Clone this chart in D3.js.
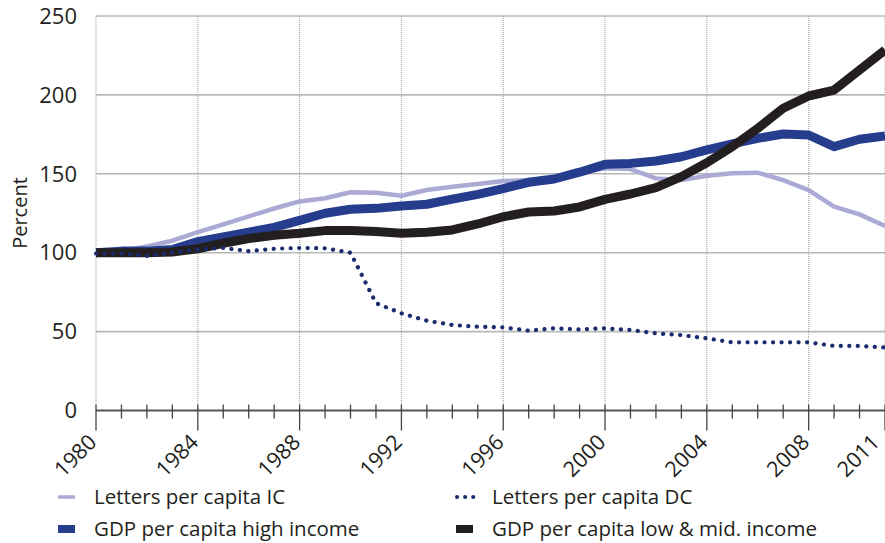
<!DOCTYPE html>
<html><head><meta charset="utf-8">
<script src="https://cdn.jsdelivr.net/npm/d3@7"></script>
<style>
html,body{margin:0;padding:0;background:#fff;}
svg{display:block;}
text{font-family:"Myriad Pro","Open Sans",sans-serif;fill:#231f20;}
</style></head>
<body>
<svg id="chart" width="885" height="543"></svg>
<script>
const years = d3.range(1980, 2012);
const lettersIC = [99,101,104,107.6,113,118,123,128,132.5,134.5,138.3,138,136.1,139.7,141.8,143.5,145.4,146,146.7,150.5,153.5,153,147.1,146,148.8,150.3,150.7,146,139.7,129.2,124.3,117];
const lettersDC = [99.5,99.5,98,100,102,103,101,102.5,103,102.8,100,68,61.6,56.9,54.2,53.1,52.7,50.6,52.1,51.4,52.1,51,48.9,47.8,45.7,43.2,43.2,43.2,43.2,40.9,40.9,40];
const gdpHigh = [100,101,101,102,107,110,113,116,120.5,125,127.5,128.1,129.6,130.7,134,137,140.6,144.6,146.7,151,156,156.6,158.1,160.8,165.1,168.9,172.5,175.2,174.6,167.2,171.9,174];
const gdpLow = [100,100,100,100.5,102.5,106,109,111,112.3,114,114,113.5,112.3,113,114.4,118.2,122.8,125.8,126.4,129,133.8,137.2,141.2,148.2,157,167.2,178.8,191.5,199.3,203.1,215.8,228.4];
const yTicks = [0,50,100,150,200,250];
const xLabelYears = [1980,1984,1988,1992,1996,2000,2004,2008,2011];
const legendLabels = ["Letters per capita IC","Letters per capita DC","GDP per capita high income","GDP per capita low & mid. income"];

const svg = d3.select("#chart");
const x = d3.scaleLinear().domain([1980, 2011]).range([96, 885]);
const y = d3.scaleLinear().domain([0, 250]).range([410.5, 16]);

// horizontal grid
svg.append("g").selectAll("line").data(yTicks.filter(d=>d>0)).join("line")
  .attr("x1", 96).attr("x2", 885).attr("y1", d=>y(d)).attr("y2", d=>y(d))
  .attr("stroke", "#b8b8b8").attr("stroke-width", 1.6);
// vertical dotted grid
svg.append("g").selectAll("line").data(xLabelYears).join("line")
  .attr("x1", d=>x(d)).attr("x2", d=>x(d)).attr("y1", y(250)).attr("y2", y(0))
  .attr("stroke", "#999").attr("stroke-width", 1).attr("stroke-dasharray", "1 1");

// y labels
svg.append("g").selectAll("text").data(yTicks).join("text")
  .attr("x", 77).attr("y", d=>y(d)).attr("dy", "0.35em").attr("text-anchor","end")
  .attr("font-size", 22).text(d=>d);
svg.append("text").attr("transform","translate(27,213) rotate(-90)")
  .attr("text-anchor","middle").attr("font-size",20).text("Percent");

// x axis
const axisY = y(0);
svg.append("line").attr("x1",96).attr("x2",885).attr("y1",axisY).attr("y2",axisY)
  .attr("stroke","#555").attr("stroke-width",1.8);
svg.append("g").selectAll("line").data(years).join("line")
  .attr("x1", d=>x(d)).attr("x2", d=>x(d))
  .attr("y1", axisY-6)
  .attr("y2", d=> xLabelYears.includes(d) ? axisY+20 : axisY+8)
  .attr("stroke","#444").attr("stroke-width",1.3);
svg.append("g").selectAll("text").data(xLabelYears).join("text")
  .attr("transform", (d,i)=>`translate(${x(d) + (i===xLabelYears.length-1 ? -4 : 2)},${axisY+33}) rotate(-45)`)
  .attr("text-anchor","end").attr("font-size",21.5).text(d=>d);

// lines
const line = vals => d3.line().x((d,i)=>x(years[i])).y(d=>y(d))(vals);
svg.append("path").attr("d", line(lettersIC)).attr("fill","none")
  .attr("stroke","#aaaad5").attr("stroke-width",4.5).attr("stroke-linejoin","round");
svg.append("path").attr("d", line(gdpHigh)).attr("fill","none")
  .attr("stroke","#263c8c").attr("stroke-width",9).attr("stroke-linejoin","round");
svg.append("path").attr("d", line(gdpLow)).attr("fill","none")
  .attr("stroke","#231f20").attr("stroke-width",9).attr("stroke-linejoin","round");
svg.append("path").attr("d", line(lettersDC)).attr("fill","none")
  .attr("stroke","#1c2a6e").attr("stroke-width",4.2).attr("stroke-linecap","round")
  .attr("stroke-dasharray","0.1 8.4");

// legend
const lg = svg.append("g");
const rows = [
  {x:57, y:497, lab:legendLabels[0], stroke:"#aaaad5", w:3.5, dash:null},
  {x:455, y:497, lab:legendLabels[1], stroke:"#1c2a6e", w:4, dash:"0.1 8"},
  {x:57, y:529, lab:legendLabels[2], stroke:"#263c8c", w:8, dash:null},
  {x:455, y:529, lab:legendLabels[3], stroke:"#231f20", w:8, dash:null}
];
rows.forEach(r=>{
  const l = lg.append("line").attr("x1",r.x+1).attr("x2",r.x+18).attr("y1",r.y).attr("y2",r.y)
    .attr("stroke",r.stroke).attr("stroke-width",r.w);
  if(r.dash){ l.attr("stroke-dasharray",r.dash).attr("stroke-linecap","round").attr("x1",r.x+2).attr("x2",r.x+20); }
  lg.append("text").attr("x", r.x+37).attr("y", r.y).attr("dy","0.35em").attr("font-size",20.5).text(r.lab);
});
</script>
</body></html>
